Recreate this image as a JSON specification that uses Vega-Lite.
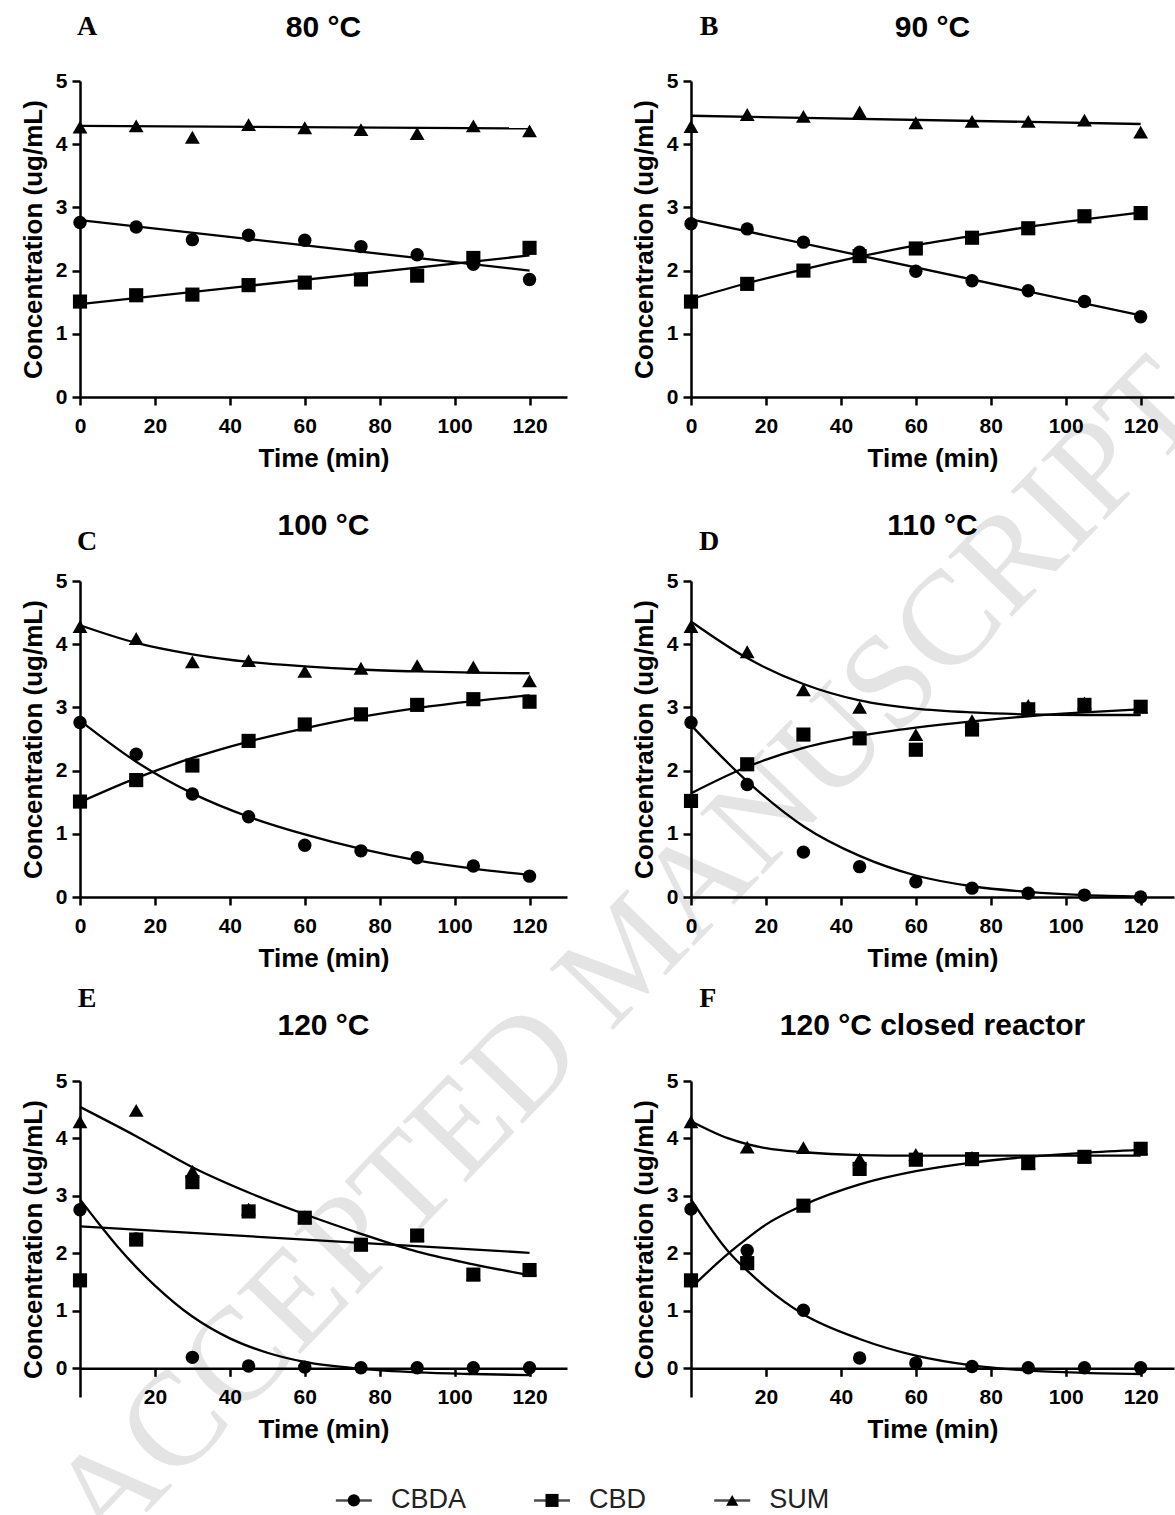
{
"$schema":"https://vega.github.io/schema/vega-lite/v6.json",
"background":"white",
"padding":{"left":20,"top":13,"right":0,"bottom":0},
"datasets":{
"pts":[
{"p":"A","s":"CBDA","t":0,"c":2.76},{"p":"A","s":"CBDA","t":15,"c":2.69},{"p":"A","s":"CBDA","t":30,"c":2.49},{"p":"A","s":"CBDA","t":45,"c":2.56},{"p":"A","s":"CBDA","t":60,"c":2.48},{"p":"A","s":"CBDA","t":75,"c":2.38},{"p":"A","s":"CBDA","t":90,"c":2.25},{"p":"A","s":"CBDA","t":105,"c":2.10},{"p":"A","s":"CBDA","t":120,"c":1.86},
{"p":"A","s":"CBD","t":0,"c":1.51},{"p":"A","s":"CBD","t":15,"c":1.61},{"p":"A","s":"CBD","t":30,"c":1.62},{"p":"A","s":"CBD","t":45,"c":1.77},{"p":"A","s":"CBD","t":60,"c":1.81},{"p":"A","s":"CBD","t":75,"c":1.86},{"p":"A","s":"CBD","t":90,"c":1.92},{"p":"A","s":"CBD","t":105,"c":2.20},{"p":"A","s":"CBD","t":120,"c":2.36},
{"p":"A","s":"SUM","t":0,"c":4.27},{"p":"A","s":"SUM","t":15,"c":4.29},{"p":"A","s":"SUM","t":30,"c":4.11},{"p":"A","s":"SUM","t":45,"c":4.31},{"p":"A","s":"SUM","t":60,"c":4.26},{"p":"A","s":"SUM","t":75,"c":4.23},{"p":"A","s":"SUM","t":90,"c":4.17},{"p":"A","s":"SUM","t":105,"c":4.29},{"p":"A","s":"SUM","t":120,"c":4.21},
{"p":"B","s":"CBDA","t":0,"c":2.74},{"p":"B","s":"CBDA","t":15,"c":2.66},{"p":"B","s":"CBDA","t":30,"c":2.45},{"p":"B","s":"CBDA","t":45,"c":2.29},{"p":"B","s":"CBDA","t":60,"c":1.99},{"p":"B","s":"CBDA","t":75,"c":1.84},{"p":"B","s":"CBDA","t":90,"c":1.68},{"p":"B","s":"CBDA","t":105,"c":1.51},{"p":"B","s":"CBDA","t":120,"c":1.27},
{"p":"B","s":"CBD","t":0,"c":1.51},{"p":"B","s":"CBD","t":15,"c":1.79},{"p":"B","s":"CBD","t":30,"c":2.00},{"p":"B","s":"CBD","t":45,"c":2.23},{"p":"B","s":"CBD","t":60,"c":2.35},{"p":"B","s":"CBD","t":75,"c":2.52},{"p":"B","s":"CBD","t":90,"c":2.67},{"p":"B","s":"CBD","t":105,"c":2.86},{"p":"B","s":"CBD","t":120,"c":2.91},
{"p":"B","s":"SUM","t":0,"c":4.28},{"p":"B","s":"SUM","t":15,"c":4.47},{"p":"B","s":"SUM","t":30,"c":4.44},{"p":"B","s":"SUM","t":45,"c":4.51},{"p":"B","s":"SUM","t":60,"c":4.34},{"p":"B","s":"SUM","t":75,"c":4.36},{"p":"B","s":"SUM","t":90,"c":4.36},{"p":"B","s":"SUM","t":105,"c":4.38},{"p":"B","s":"SUM","t":120,"c":4.19},
{"p":"C","s":"CBDA","t":0,"c":2.76},{"p":"C","s":"CBDA","t":15,"c":2.26},{"p":"C","s":"CBDA","t":30,"c":1.63},{"p":"C","s":"CBDA","t":45,"c":1.27},{"p":"C","s":"CBDA","t":60,"c":0.82},{"p":"C","s":"CBDA","t":75,"c":0.73},{"p":"C","s":"CBDA","t":90,"c":0.62},{"p":"C","s":"CBDA","t":105,"c":0.49},{"p":"C","s":"CBDA","t":120,"c":0.33},
{"p":"C","s":"CBD","t":0,"c":1.51},{"p":"C","s":"CBD","t":15,"c":1.85},{"p":"C","s":"CBD","t":30,"c":2.08},{"p":"C","s":"CBD","t":45,"c":2.47},{"p":"C","s":"CBD","t":60,"c":2.73},{"p":"C","s":"CBD","t":75,"c":2.89},{"p":"C","s":"CBD","t":90,"c":3.04},{"p":"C","s":"CBD","t":105,"c":3.13},{"p":"C","s":"CBD","t":120,"c":3.09},
{"p":"C","s":"SUM","t":0,"c":4.28},{"p":"C","s":"SUM","t":15,"c":4.09},{"p":"C","s":"SUM","t":30,"c":3.72},{"p":"C","s":"SUM","t":45,"c":3.74},{"p":"C","s":"SUM","t":60,"c":3.57},{"p":"C","s":"SUM","t":75,"c":3.62},{"p":"C","s":"SUM","t":90,"c":3.66},{"p":"C","s":"SUM","t":105,"c":3.64},{"p":"C","s":"SUM","t":120,"c":3.42},
{"p":"D","s":"CBDA","t":0,"c":2.76},{"p":"D","s":"CBDA","t":15,"c":1.78},{"p":"D","s":"CBDA","t":30,"c":0.71},{"p":"D","s":"CBDA","t":45,"c":0.48},{"p":"D","s":"CBDA","t":60,"c":0.24},{"p":"D","s":"CBDA","t":75,"c":0.14},{"p":"D","s":"CBDA","t":90,"c":0.06},{"p":"D","s":"CBDA","t":105,"c":0.03},{"p":"D","s":"CBDA","t":120,"c":0.0},
{"p":"D","s":"CBD","t":0,"c":1.52},{"p":"D","s":"CBD","t":15,"c":2.10},{"p":"D","s":"CBD","t":30,"c":2.57},{"p":"D","s":"CBD","t":45,"c":2.51},{"p":"D","s":"CBD","t":60,"c":2.33},{"p":"D","s":"CBD","t":75,"c":2.65},{"p":"D","s":"CBD","t":90,"c":2.97},{"p":"D","s":"CBD","t":105,"c":3.04},{"p":"D","s":"CBD","t":120,"c":3.01},
{"p":"D","s":"SUM","t":0,"c":4.28},{"p":"D","s":"SUM","t":15,"c":3.88},{"p":"D","s":"SUM","t":30,"c":3.28},{"p":"D","s":"SUM","t":45,"c":3.00},{"p":"D","s":"SUM","t":60,"c":2.57},{"p":"D","s":"SUM","t":75,"c":2.79},{"p":"D","s":"SUM","t":90,"c":3.03},{"p":"D","s":"SUM","t":105,"c":3.07},{"p":"D","s":"SUM","t":120,"c":3.01},
{"p":"E","s":"CBDA","t":0,"c":2.76},{"p":"E","s":"CBDA","t":15,"c":2.25},{"p":"E","s":"CBDA","t":30,"c":0.19},{"p":"E","s":"CBDA","t":45,"c":0.04},{"p":"E","s":"CBDA","t":60,"c":0.02},{"p":"E","s":"CBDA","t":75,"c":0.01},{"p":"E","s":"CBDA","t":90,"c":0.01},{"p":"E","s":"CBDA","t":105,"c":0.01},{"p":"E","s":"CBDA","t":120,"c":0.01},
{"p":"E","s":"CBD","t":0,"c":1.53},{"p":"E","s":"CBD","t":15,"c":2.24},{"p":"E","s":"CBD","t":30,"c":3.24},{"p":"E","s":"CBD","t":45,"c":2.73},{"p":"E","s":"CBD","t":60,"c":2.62},{"p":"E","s":"CBD","t":75,"c":2.15},{"p":"E","s":"CBD","t":90,"c":2.31},{"p":"E","s":"CBD","t":105,"c":1.63},{"p":"E","s":"CBD","t":120,"c":1.71},
{"p":"E","s":"SUM","t":0,"c":4.29},{"p":"E","s":"SUM","t":15,"c":4.49},{"p":"E","s":"SUM","t":30,"c":3.43},{"p":"E","s":"SUM","t":45,"c":2.77},{"p":"E","s":"SUM","t":60,"c":2.64},{"p":"E","s":"SUM","t":75,"c":2.16},{"p":"E","s":"SUM","t":90,"c":2.32},{"p":"E","s":"SUM","t":105,"c":1.64},{"p":"E","s":"SUM","t":120,"c":1.72},
{"p":"F","s":"CBDA","t":0,"c":2.77},{"p":"F","s":"CBDA","t":15,"c":2.05},{"p":"F","s":"CBDA","t":30,"c":1.01},{"p":"F","s":"CBDA","t":45,"c":0.18},{"p":"F","s":"CBDA","t":60,"c":0.09},{"p":"F","s":"CBDA","t":75,"c":0.03},{"p":"F","s":"CBDA","t":90,"c":0.01},{"p":"F","s":"CBDA","t":105,"c":0.01},{"p":"F","s":"CBDA","t":120,"c":0.01},
{"p":"F","s":"CBD","t":0,"c":1.53},{"p":"F","s":"CBD","t":15,"c":1.83},{"p":"F","s":"CBD","t":30,"c":2.83},{"p":"F","s":"CBD","t":45,"c":3.47},{"p":"F","s":"CBD","t":60,"c":3.63},{"p":"F","s":"CBD","t":75,"c":3.64},{"p":"F","s":"CBD","t":90,"c":3.57},{"p":"F","s":"CBD","t":105,"c":3.68},{"p":"F","s":"CBD","t":120,"c":3.82},
{"p":"F","s":"SUM","t":0,"c":4.29},{"p":"F","s":"SUM","t":15,"c":3.85},{"p":"F","s":"SUM","t":30,"c":3.84},{"p":"F","s":"SUM","t":45,"c":3.64},{"p":"F","s":"SUM","t":60,"c":3.72},{"p":"F","s":"SUM","t":75,"c":3.67},{"p":"F","s":"SUM","t":90,"c":3.58},{"p":"F","s":"SUM","t":105,"c":3.69},{"p":"F","s":"SUM","t":120,"c":3.83}
],
"fit":[
{"p":"A","s":"CBDA","t":0,"c":2.80},{"p":"A","s":"CBDA","t":120,"c":2.00},
{"p":"A","s":"CBD","t":0,"c":1.47},{"p":"A","s":"CBD","t":120,"c":2.24},
{"p":"A","s":"SUM","t":0,"c":4.29},{"p":"A","s":"SUM","t":120,"c":4.25},
{"p":"B","s":"CBDA","t":0,"c":2.81},{"p":"B","s":"CBDA","t":120,"c":1.29},
{"p":"B","s":"CBD","t":0,"c":1.55},{"p":"B","s":"CBD","t":15,"c":1.80},{"p":"B","s":"CBD","t":30,"c":2.02},{"p":"B","s":"CBD","t":45,"c":2.22},{"p":"B","s":"CBD","t":60,"c":2.40},{"p":"B","s":"CBD","t":75,"c":2.55},{"p":"B","s":"CBD","t":90,"c":2.69},{"p":"B","s":"CBD","t":105,"c":2.81},{"p":"B","s":"CBD","t":120,"c":2.92},
{"p":"B","s":"SUM","t":0,"c":4.45},{"p":"B","s":"SUM","t":120,"c":4.32},
{"p":"C","s":"CBDA","t":0,"c":2.79},{"p":"C","s":"CBDA","t":15,"c":2.14},{"p":"C","s":"CBDA","t":30,"c":1.64},{"p":"C","s":"CBDA","t":45,"c":1.27},{"p":"C","s":"CBDA","t":60,"c":0.99},{"p":"C","s":"CBDA","t":75,"c":0.76},{"p":"C","s":"CBDA","t":90,"c":0.58},{"p":"C","s":"CBDA","t":105,"c":0.45},{"p":"C","s":"CBDA","t":120,"c":0.35},
{"p":"C","s":"CBD","t":0,"c":1.50},{"p":"C","s":"CBD","t":15,"c":1.88},{"p":"C","s":"CBD","t":30,"c":2.20},{"p":"C","s":"CBD","t":45,"c":2.46},{"p":"C","s":"CBD","t":60,"c":2.67},{"p":"C","s":"CBD","t":75,"c":2.85},{"p":"C","s":"CBD","t":90,"c":2.99},{"p":"C","s":"CBD","t":105,"c":3.10},{"p":"C","s":"CBD","t":120,"c":3.19},
{"p":"C","s":"SUM","t":0,"c":4.30},{"p":"C","s":"SUM","t":15,"c":4.02},{"p":"C","s":"SUM","t":30,"c":3.84},{"p":"C","s":"SUM","t":45,"c":3.72},{"p":"C","s":"SUM","t":60,"c":3.65},{"p":"C","s":"SUM","t":75,"c":3.60},{"p":"C","s":"SUM","t":90,"c":3.57},{"p":"C","s":"SUM","t":105,"c":3.55},{"p":"C","s":"SUM","t":120,"c":3.54},
{"p":"D","s":"CBDA","t":0,"c":2.72},{"p":"D","s":"CBDA","t":15,"c":1.83},{"p":"D","s":"CBDA","t":30,"c":1.12},{"p":"D","s":"CBDA","t":45,"c":0.65},{"p":"D","s":"CBDA","t":60,"c":0.34},{"p":"D","s":"CBDA","t":75,"c":0.17},{"p":"D","s":"CBDA","t":90,"c":0.08},{"p":"D","s":"CBDA","t":105,"c":0.03},{"p":"D","s":"CBDA","t":120,"c":0.01},
{"p":"D","s":"CBD","t":0,"c":1.64},{"p":"D","s":"CBD","t":15,"c":2.06},{"p":"D","s":"CBD","t":30,"c":2.36},{"p":"D","s":"CBD","t":45,"c":2.55},{"p":"D","s":"CBD","t":60,"c":2.68},{"p":"D","s":"CBD","t":75,"c":2.78},{"p":"D","s":"CBD","t":90,"c":2.86},{"p":"D","s":"CBD","t":105,"c":2.92},{"p":"D","s":"CBD","t":120,"c":2.97},
{"p":"D","s":"SUM","t":0,"c":4.36},{"p":"D","s":"SUM","t":15,"c":3.78},{"p":"D","s":"SUM","t":30,"c":3.37},{"p":"D","s":"SUM","t":45,"c":3.11},{"p":"D","s":"SUM","t":60,"c":2.98},{"p":"D","s":"SUM","t":75,"c":2.92},{"p":"D","s":"SUM","t":90,"c":2.89},{"p":"D","s":"SUM","t":105,"c":2.88},{"p":"D","s":"SUM","t":120,"c":2.88},
{"p":"E","s":"SUM","t":0,"c":4.55},{"p":"E","s":"SUM","t":15,"c":4.04},{"p":"E","s":"SUM","t":30,"c":3.50},{"p":"E","s":"SUM","t":45,"c":3.06},{"p":"E","s":"SUM","t":60,"c":2.68},{"p":"E","s":"SUM","t":75,"c":2.34},{"p":"E","s":"SUM","t":90,"c":2.03},{"p":"E","s":"SUM","t":105,"c":1.81},{"p":"E","s":"SUM","t":120,"c":1.62},
{"p":"E","s":"CBD","t":0,"c":2.47},{"p":"E","s":"CBD","t":120,"c":2.01},
{"p":"E","s":"CBDA","t":0,"c":2.94},{"p":"E","s":"CBDA","t":5,"c":2.52},{"p":"E","s":"CBDA","t":10,"c":2.12},{"p":"E","s":"CBDA","t":15,"c":1.76},{"p":"E","s":"CBDA","t":20,"c":1.44},{"p":"E","s":"CBDA","t":30,"c":0.90},{"p":"E","s":"CBDA","t":40,"c":0.52},{"p":"E","s":"CBDA","t":50,"c":0.27},{"p":"E","s":"CBDA","t":60,"c":0.11},{"p":"E","s":"CBDA","t":75,"c":-0.01},{"p":"E","s":"CBDA","t":90,"c":-0.07},{"p":"E","s":"CBDA","t":105,"c":-0.10},{"p":"E","s":"CBDA","t":120,"c":-0.12},
{"p":"F","s":"SUM","t":0,"c":4.30},{"p":"F","s":"SUM","t":10,"c":4.00},{"p":"F","s":"SUM","t":15,"c":3.90},{"p":"F","s":"SUM","t":20,"c":3.83},{"p":"F","s":"SUM","t":30,"c":3.76},{"p":"F","s":"SUM","t":45,"c":3.71},{"p":"F","s":"SUM","t":60,"c":3.70},{"p":"F","s":"SUM","t":75,"c":3.70},{"p":"F","s":"SUM","t":90,"c":3.70},{"p":"F","s":"SUM","t":105,"c":3.70},{"p":"F","s":"SUM","t":120,"c":3.70},
{"p":"F","s":"CBD","t":0,"c":1.40},{"p":"F","s":"CBD","t":10,"c":2.00},{"p":"F","s":"CBD","t":15,"c":2.26},{"p":"F","s":"CBD","t":20,"c":2.50},{"p":"F","s":"CBD","t":30,"c":2.84},{"p":"F","s":"CBD","t":45,"c":3.20},{"p":"F","s":"CBD","t":60,"c":3.43},{"p":"F","s":"CBD","t":75,"c":3.58},{"p":"F","s":"CBD","t":90,"c":3.68},{"p":"F","s":"CBD","t":105,"c":3.75},{"p":"F","s":"CBD","t":120,"c":3.80},
{"p":"F","s":"CBDA","t":0,"c":2.94},{"p":"F","s":"CBDA","t":10,"c":2.03},{"p":"F","s":"CBDA","t":15,"c":1.70},{"p":"F","s":"CBDA","t":20,"c":1.41},{"p":"F","s":"CBDA","t":30,"c":0.94},{"p":"F","s":"CBDA","t":45,"c":0.51},{"p":"F","s":"CBDA","t":60,"c":0.22},{"p":"F","s":"CBDA","t":75,"c":0.05},{"p":"F","s":"CBDA","t":90,"c":-0.04},{"p":"F","s":"CBDA","t":105,"c":-0.08},{"p":"F","s":"CBDA","t":120,"c":-0.10}
]
},
"concat":[
{"width":487,"height":316,"title":{"text":"80 °C","offset":-30},
 "layer":[
  {"data":{"values":[{"w":"ACCEPTED MANUSCRIPT"}]},"mark":{"type":"text","font":"Liberation Serif","fontSize":134,"angle":-46,"align":"left","baseline":"alphabetic","fill":"#e4e4e4"},
   "encoding":{"x":{"datum":6.94,"type":"quantitative"},"y":{"datum":-18.32,"type":"quantitative"},"text":{"field":"w","type":"nominal"}}},
  {"data":{"name":"fit"},"transform":[{"filter":"datum.p==='A'"}],"mark":{"type":"line","interpolate":"monotone","color":"black","strokeWidth":2.3},
   "encoding":{"x":{"field":"t","type":"quantitative","scale":{"domain":[0,130],"nice":false,"zero":false},"axis":{"values":[0,20,40,60,80,100,120],"format":"d","title":"Time (min)"}},"y":{"field":"c","type":"quantitative","scale":{"domain":[0,5],"nice":false},"axis":{"values":[0,1,2,3,4,5],"format":"d","title":"Concentration (ug/mL)"}},"detail":{"field":"s"}}},
  {"data":{"name":"pts"},"transform":[{"filter":"datum.p==='A'"}],"mark":{"type":"point","filled":true,"color":"black","opacity":1},
   "encoding":{"x":{"field":"t","type":"quantitative","axis":{"values":[0,20,40,60,80,100,120],"format":"d","title":"Time (min)"}},"y":{"field":"c","type":"quantitative","axis":{"values":[0,1,2,3,4,5],"format":"d","title":"Concentration (ug/mL)"}},"shape":{"field":"s","type":"nominal","scale":{"domain":["CBDA","CBD","SUM"],"range":["circle","square","triangle-up"]},"legend":null},"size":{"field":"s","type":"nominal","scale":{"domain":["CBDA","CBD","SUM"],"range":[180,220,190]},"legend":null}}},
  {"data":{"values":[{"letter":"A"}]},"mark":{"type":"text","font":"Liberation Serif","fontWeight":"bold","fontSize":28,"fill":"black"},
   "encoding":{"x":{"datum":1.9,"type":"quantitative"},"y":{"datum":5.85,"type":"quantitative"},"text":{"field":"letter","type":"nominal"}}}
 ]},
{"width":483,"height":316,"title":{"text":"90 °C","offset":-30},
 "layer":[
  {"data":{"name":"fit"},"transform":[{"filter":"datum.p==='B'"}],"mark":{"type":"line","interpolate":"monotone","color":"black","strokeWidth":2.3},
   "encoding":{"x":{"field":"t","type":"quantitative","scale":{"domain":[0,128.9],"nice":false,"zero":false},"axis":{"values":[0,20,40,60,80,100,120],"format":"d","title":"Time (min)"}},"y":{"field":"c","type":"quantitative","scale":{"domain":[0,5],"nice":false},"axis":{"values":[0,1,2,3,4,5],"format":"d","title":"Concentration (ug/mL)"}},"detail":{"field":"s"}}},
  {"data":{"name":"pts"},"transform":[{"filter":"datum.p==='B'"}],"mark":{"type":"point","filled":true,"color":"black","opacity":1},
   "encoding":{"x":{"field":"t","type":"quantitative","axis":{"values":[0,20,40,60,80,100,120],"format":"d","title":"Time (min)"}},"y":{"field":"c","type":"quantitative","axis":{"values":[0,1,2,3,4,5],"format":"d","title":"Concentration (ug/mL)"}},"shape":{"field":"s","type":"nominal","scale":{"domain":["CBDA","CBD","SUM"],"range":["circle","square","triangle-up"]},"legend":null},"size":{"field":"s","type":"nominal","scale":{"domain":["CBDA","CBD","SUM"],"range":[180,220,190]},"legend":null}}},
  {"data":{"values":[{"letter":"B"}]},"mark":{"type":"text","font":"Liberation Serif","fontWeight":"bold","fontSize":28,"fill":"black"},
   "encoding":{"x":{"datum":4.8,"type":"quantitative"},"y":{"datum":5.85,"type":"quantitative"},"text":{"field":"letter","type":"nominal"}}}
 ]},
{"width":487,"height":316,"title":{"text":"100 °C","offset":-13},
 "layer":[
  {"data":{"name":"fit"},"transform":[{"filter":"datum.p==='C'"}],"mark":{"type":"line","interpolate":"monotone","color":"black","strokeWidth":2.3},
   "encoding":{"x":{"field":"t","type":"quantitative","scale":{"domain":[0,130],"nice":false,"zero":false},"axis":{"values":[0,20,40,60,80,100,120],"format":"d","title":"Time (min)"}},"y":{"field":"c","type":"quantitative","scale":{"domain":[0,5],"nice":false},"axis":{"values":[0,1,2,3,4,5],"format":"d","title":"Concentration (ug/mL)"}},"detail":{"field":"s"}}},
  {"data":{"name":"pts"},"transform":[{"filter":"datum.p==='C'"}],"mark":{"type":"point","filled":true,"color":"black","opacity":1},
   "encoding":{"x":{"field":"t","type":"quantitative","axis":{"values":[0,20,40,60,80,100,120],"format":"d","title":"Time (min)"}},"y":{"field":"c","type":"quantitative","axis":{"values":[0,1,2,3,4,5],"format":"d","title":"Concentration (ug/mL)"}},"shape":{"field":"s","type":"nominal","scale":{"domain":["CBDA","CBD","SUM"],"range":["circle","square","triangle-up"]},"legend":null},"size":{"field":"s","type":"nominal","scale":{"domain":["CBDA","CBD","SUM"],"range":[180,220,190]},"legend":null}}},
  {"data":{"values":[{"letter":"C"}]},"mark":{"type":"text","font":"Liberation Serif","fontWeight":"bold","fontSize":28,"fill":"black"},
   "encoding":{"x":{"datum":1.9,"type":"quantitative"},"y":{"datum":5.62,"type":"quantitative"},"text":{"field":"letter","type":"nominal"}}}
 ]},
{"width":483,"height":316,"title":{"text":"110 °C","offset":-13},
 "layer":[
  {"data":{"name":"fit"},"transform":[{"filter":"datum.p==='D'"}],"mark":{"type":"line","interpolate":"monotone","color":"black","strokeWidth":2.3},
   "encoding":{"x":{"field":"t","type":"quantitative","scale":{"domain":[0,128.9],"nice":false,"zero":false},"axis":{"values":[0,20,40,60,80,100,120],"format":"d","title":"Time (min)"}},"y":{"field":"c","type":"quantitative","scale":{"domain":[0,5],"nice":false},"axis":{"values":[0,1,2,3,4,5],"format":"d","title":"Concentration (ug/mL)"}},"detail":{"field":"s"}}},
  {"data":{"name":"pts"},"transform":[{"filter":"datum.p==='D'"}],"mark":{"type":"point","filled":true,"color":"black","opacity":1},
   "encoding":{"x":{"field":"t","type":"quantitative","axis":{"values":[0,20,40,60,80,100,120],"format":"d","title":"Time (min)"}},"y":{"field":"c","type":"quantitative","axis":{"values":[0,1,2,3,4,5],"format":"d","title":"Concentration (ug/mL)"}},"shape":{"field":"s","type":"nominal","scale":{"domain":["CBDA","CBD","SUM"],"range":["circle","square","triangle-up"]},"legend":null},"size":{"field":"s","type":"nominal","scale":{"domain":["CBDA","CBD","SUM"],"range":[180,220,190]},"legend":null}}},
  {"data":{"values":[{"letter":"D"}]},"mark":{"type":"text","font":"Liberation Serif","fontWeight":"bold","fontSize":28,"fill":"black"},
   "encoding":{"x":{"datum":4.8,"type":"quantitative"},"y":{"datum":5.62,"type":"quantitative"},"text":{"field":"letter","type":"nominal"}}}
 ]},
{"width":487,"height":316,"title":{"text":"120 °C","offset":-56},
 "layer":[
  {"data":{"name":"fit"},"transform":[{"filter":"datum.p==='E'"}],"mark":{"type":"line","interpolate":"monotone","color":"black","strokeWidth":2.3},
   "encoding":{"x":{"field":"t","type":"quantitative","scale":{"domain":[0,130],"nice":false,"zero":false},"axis":{"values":[20,40,60,80,100,120],"format":"d","title":"Time (min)","offset":-28.7}},"y":{"field":"c","type":"quantitative","scale":{"domain":[-0.5,5],"nice":false,"zero":false},"axis":{"values":[0,1,2,3,4,5],"format":"d","title":"Concentration (ug/mL)"}},"detail":{"field":"s"}}},
  {"data":{"name":"pts"},"transform":[{"filter":"datum.p==='E'"}],"mark":{"type":"point","filled":true,"color":"black","opacity":1},
   "encoding":{"x":{"field":"t","type":"quantitative","axis":{"values":[20,40,60,80,100,120],"format":"d","title":"Time (min)","offset":-28.7}},"y":{"field":"c","type":"quantitative","axis":{"values":[0,1,2,3,4,5],"format":"d","title":"Concentration (ug/mL)"}},"shape":{"field":"s","type":"nominal","scale":{"domain":["CBDA","CBD","SUM"],"range":["circle","square","triangle-up"]},"legend":null},"size":{"field":"s","type":"nominal","scale":{"domain":["CBDA","CBD","SUM"],"range":[180,220,190]},"legend":null}}},
  {"data":{"values":[{"letter":"E"}]},"mark":{"type":"text","font":"Liberation Serif","fontWeight":"bold","fontSize":28,"fill":"black"},
   "encoding":{"x":{"datum":1.9,"type":"quantitative"},"y":{"datum":6.43,"type":"quantitative"},"text":{"field":"letter","type":"nominal"}}},
  {"data":{"values":[{"s":"CBDA"}]},"mark":{"type":"tick","orient":"horizontal","color":"black","thickness":2.5,"size":36},
   "encoding":{"x":{"datum":73.1,"type":"quantitative"},"y":{"datum":-2.3,"type":"quantitative"}}},
  {"data":{"values":[{"s":"CBDA"}]},"mark":{"type":"point","filled":true,"shape":"circle","size":150,"color":"black","opacity":1},
   "encoding":{"x":{"datum":73.1,"type":"quantitative"},"y":{"datum":-2.3,"type":"quantitative"}}},
  {"data":{"values":[{"s":"CBDA"}]},"mark":{"type":"text","align":"left","baseline":"middle","fontSize":27,"color":"#222222","font":"Liberation Sans"},
   "encoding":{"x":{"datum":83.0,"type":"quantitative"},"y":{"datum":-2.3,"type":"quantitative"},"text":{"field":"s","type":"nominal"}}},
  {"data":{"values":[{"s":"CBD"}]},"mark":{"type":"tick","orient":"horizontal","color":"black","thickness":2.5,"size":36},
   "encoding":{"x":{"datum":126.0,"type":"quantitative"},"y":{"datum":-2.3,"type":"quantitative"}}},
  {"data":{"values":[{"s":"CBD"}]},"mark":{"type":"point","filled":true,"shape":"square","size":170,"color":"black","opacity":1},
   "encoding":{"x":{"datum":126.0,"type":"quantitative"},"y":{"datum":-2.3,"type":"quantitative"}}},
  {"data":{"values":[{"s":"CBD"}]},"mark":{"type":"text","align":"left","baseline":"middle","fontSize":27,"color":"#222222","font":"Liberation Sans"},
   "encoding":{"x":{"datum":135.9,"type":"quantitative"},"y":{"datum":-2.3,"type":"quantitative"},"text":{"field":"s","type":"nominal"}}},
  {"data":{"values":[{"s":"SUM"}]},"mark":{"type":"tick","orient":"horizontal","color":"black","thickness":2.5,"size":36},
   "encoding":{"x":{"datum":174.1,"type":"quantitative"},"y":{"datum":-2.3,"type":"quantitative"}}},
  {"data":{"values":[{"s":"SUM"}]},"mark":{"type":"point","filled":true,"shape":"triangle-up","size":150,"color":"black","opacity":1},
   "encoding":{"x":{"datum":174.1,"type":"quantitative"},"y":{"datum":-2.3,"type":"quantitative"}}},
  {"data":{"values":[{"s":"SUM"}]},"mark":{"type":"text","align":"left","baseline":"middle","fontSize":27,"color":"#222222","font":"Liberation Sans"},
   "encoding":{"x":{"datum":184.0,"type":"quantitative"},"y":{"datum":-2.3,"type":"quantitative"},"text":{"field":"s","type":"nominal"}}}
 ]},
{"width":483,"height":316,"title":{"text":"120 °C closed reactor","offset":-56},
 "layer":[
  {"data":{"name":"fit"},"transform":[{"filter":"datum.p==='F'"}],"mark":{"type":"line","interpolate":"monotone","color":"black","strokeWidth":2.3},
   "encoding":{"x":{"field":"t","type":"quantitative","scale":{"domain":[0,128.9],"nice":false,"zero":false},"axis":{"values":[20,40,60,80,100,120],"format":"d","title":"Time (min)","offset":-28.7}},"y":{"field":"c","type":"quantitative","scale":{"domain":[-0.5,5],"nice":false,"zero":false},"axis":{"values":[0,1,2,3,4,5],"format":"d","title":"Concentration (ug/mL)"}},"detail":{"field":"s"}}},
  {"data":{"name":"pts"},"transform":[{"filter":"datum.p==='F'"}],"mark":{"type":"point","filled":true,"color":"black","opacity":1},
   "encoding":{"x":{"field":"t","type":"quantitative","axis":{"values":[20,40,60,80,100,120],"format":"d","title":"Time (min)","offset":-28.7}},"y":{"field":"c","type":"quantitative","axis":{"values":[0,1,2,3,4,5],"format":"d","title":"Concentration (ug/mL)"}},"shape":{"field":"s","type":"nominal","scale":{"domain":["CBDA","CBD","SUM"],"range":["circle","square","triangle-up"]},"legend":null},"size":{"field":"s","type":"nominal","scale":{"domain":["CBDA","CBD","SUM"],"range":[180,220,190]},"legend":null}}},
  {"data":{"values":[{"letter":"F"}]},"mark":{"type":"text","font":"Liberation Serif","fontWeight":"bold","fontSize":28,"fill":"black"},
   "encoding":{"x":{"datum":4.5,"type":"quantitative"},"y":{"datum":6.43,"type":"quantitative"},"text":{"field":"letter","type":"nominal"}}}
 ]}
],
"columns":2,
"spacing":{"row":184,"column":124},
"bounds":"flush",
"config":{
 "font":"Liberation Sans",
 "view":{"stroke":null},
 "axis":{"domainColor":"black","domainWidth":2.5,"tickColor":"black","tickWidth":2.5,"tickSize":8,"labelFont":"Liberation Sans","labelFontWeight":"bold","labelFontSize":21,"labelColor":"black","titleFont":"Liberation Sans","titleFontWeight":"bold","titleFontSize":26,"titleColor":"black","grid":false,"labelFlush":false},
 "axisX":{"titlePadding":9,"labelPadding":10},
 "axisY":{"titlePadding":9,"labelPadding":5},
 "title":{"font":"Liberation Sans","fontWeight":"bold","fontSize":30,"color":"black","anchor":"middle","frame":"group"}
}
}
